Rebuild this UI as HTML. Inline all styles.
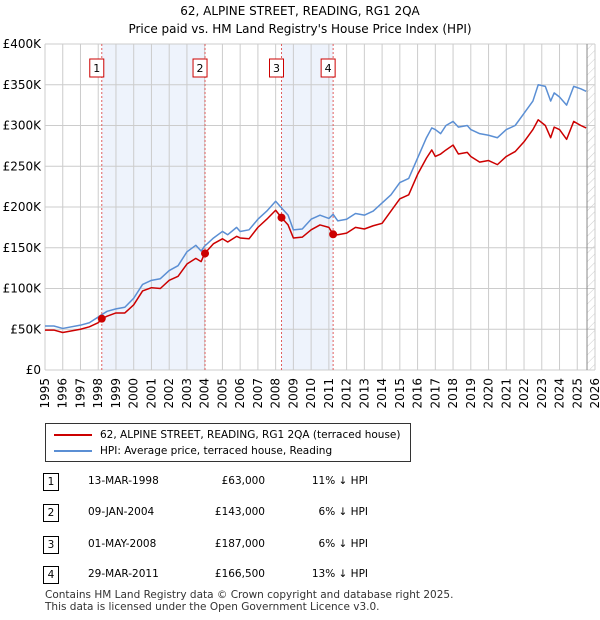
<!DOCTYPE html>
<html><head><meta charset="utf-8">
<style>
body{margin:0;background:#fff;font-family:"DejaVu Sans","Liberation Sans",sans-serif;color:#000}
#wrap{position:relative;width:600px;height:620px;overflow:hidden}
.t{position:absolute;font-size:12px}
</style></head><body>
<div id="wrap">
<div class="t" style="left:0;width:600px;top:2px;text-align:center;font-size:12px;line-height:18px">62, ALPINE STREET, READING, RG1 2QA<br>Price paid vs. HM Land Registry's House Price Index (HPI)</div>
<svg id="chart" width="600" height="420" style="position:absolute;left:0;top:0;font-family:'DejaVu Sans',sans-serif"></svg>
<div style="position:absolute;left:45px;top:423px;width:364px;height:37px;border:1px solid #333;font-size:10.5px">
 <div style="position:absolute;left:8px;top:5px"><span style="display:inline-block;width:38px;height:2px;background:#cc0000;vertical-align:middle;margin-right:8px"></span>62, ALPINE STREET, READING, RG1 2QA (terraced house)</div>
 <div style="position:absolute;left:8px;top:21px"><span style="display:inline-block;width:38px;height:2px;background:#5b8fd4;vertical-align:middle;margin-right:8px"></span>HPI: Average price, terraced house, Reading</div>
</div>
<div id="table"></div>
<div class="t" style="left:45px;top:589px;font-size:10.5px;line-height:12px;color:#333">Contains HM Land Registry data © Crown copyright and database right 2025.<br>This data is licensed under the Open Government Licence v3.0.</div>
</div>
<script>
const dates=[1995,1995.5,1996,1997,1997.5,1998,1998.2,1998.5,1999,1999.5,2000,2000.5,2001,2001.5,2002,2002.5,2003,2003.5,2003.8,2004,2004.5,2005,2005.3,2005.8,2006,2006.5,2007,2007.5,2008,2008.33,2008.7,2009,2009.5,2010,2010.5,2011,2011.24,2011.5,2012,2012.5,2013,2013.5,2014,2014.5,2015,2015.5,2016,2016.5,2016.8,2017,2017.3,2017.6,2018,2018.3,2018.8,2019,2019.5,2020,2020.5,2021,2021.5,2022,2022.5,2022.8,2023.2,2023.5,2023.7,2024,2024.4,2024.8,2025.2,2025.5];
const hpi=[54,54,51,55,58,65,68,72,75,77,88,105,110,112,122,128,145,153,146,152,162,170,166,175,170,172,185,195,207,199,190,172,173,185,190,186,191,183,185,192,190,195,205,215,230,235,260,285,297,295,290,300,305,298,300,295,290,288,285,295,300,315,330,350,348,330,340,335,325,348,345,342];
const paid=[49,49,46,50,53,58,63,66,70,70,80,97,101,100,110,115,130,137,133,143,155,161,157,164,162,161,175,185,196,187,178,162,163,172,178,175,166.5,166,168,175,173,177,180,195,210,215,240,260,270,262,265,270,276,265,267,262,255,257,252,262,268,280,295,307,300,285,298,295,283,305,300,297];
const saleNums=["1","2","3","4"];
const saleDates=[1998.2,2004.02,2008.33,2011.24];
const salePrices=[63,143,187,166.5];
const saleLabels=["13-MAR-1998","09-JAN-2004","01-MAY-2008","29-MAR-2011"];
const salePriceText=["£63,000","£143,000","£187,000","£166,500"];
const saleDiff=["11% ↓ HPI","6% ↓ HPI","6% ↓ HPI","13% ↓ HPI"];
const yTicks=[0,50,100,150,200,250,300,350,400];
const yTickLabels=["£0","£50K","£100K","£150K","£200K","£250K","£300K","£350K","£400K"];
const years=[];for(let y=1995;y<=2026;y++)years.push(y);

const X0=45,X1=595,Y0=370,Y1=44;
const xs=v=>X0+(v-1995)/(2026-1995)*(X1-X0);
const ys=v=>Y0-v/400*(Y0-Y1);
const svg=document.getElementById('chart');
const NS='http://www.w3.org/2000/svg';
function mk(tag,attrs,parent){const e=document.createElementNS(NS,tag);for(const k in attrs)e.setAttribute(k,attrs[k]);(parent||svg).appendChild(e);return e;}
for(let i=0;i<saleDates.length;i+=2){
 const r=mk('rect',{x:xs(saleDates[i]),y:Y1,width:xs(saleDates[i+1])-xs(saleDates[i]),height:Y0-Y1,fill:'#eef3fc'});
 
 
}
const defs=mk('defs',{});
const pat=mk('pattern',{id:'h',width:6,height:6,patternUnits:'userSpaceOnUse',patternTransform:'rotate(45)'},defs);
mk('line',{x1:0,y1:0,x2:0,y2:6,stroke:'#ccc','stroke-width':1},pat);
const hx=xs(2025.55);
const hr=mk('rect',{x:hx,y:Y1,width:X1-hx,height:Y0-Y1,fill:'url(#h)'});


years.forEach(y=>{const l=mk('line',{x1:xs(y),x2:xs(y),y1:Y1,y2:Y0,stroke:'#ccc','stroke-width':1});
 
 
 const t=mk('text',{x:0,y:0,transform:`translate(${xs(y)+4},${Y0+8}) rotate(-90)`,'text-anchor':'end','font-size':12,fill:'#000'});
 t.textContent=y;
 
 
});
yTicks.forEach((v,i)=>{const l=mk('line',{x1:X0,x2:X1,y1:ys(v),y2:ys(v),stroke:'#ccc','stroke-width':1});
 
 
 const t=mk('text',{x:X0-4,y:ys(v)+4,'text-anchor':'end','font-size':12,fill:'#000'});
 t.textContent=yTickLabels[i];
 
 
});
mk('line',{x1:hx,x2:hx,y1:Y1,y2:Y0,stroke:'#888','stroke-width':1});
saleDates.forEach((d,i)=>{
 const l=mk('line',{x1:xs(d),x2:xs(d),y1:Y1,y2:Y0,stroke:'#e06060','stroke-width':1,'stroke-dasharray':'2,2'});
 
 
 const b=mk('rect',{x:xs(d)-12,y:59,width:14,height:18,fill:'#fff',stroke:'#cc0000'});
 
 
 const t=mk('text',{x:xs(d)-5,y:72,'text-anchor':'middle','font-size':11});
 t.textContent=saleNums[i];
 
 
});
function line(vals,color,name){
 const p=mk('polyline',{points:dates.map((d,i)=>xs(d)+','+ys(vals[i])).join(' '),fill:'none',stroke:color,'stroke-width':1.5,'stroke-linejoin':'round'});
 
 
}
line(hpi,'#5b8fd4','hpi-line');
line(paid,'#cc0000','price-paid-line');
saleDates.forEach((d,i)=>{
 const c=mk('circle',{cx:xs(d),cy:ys(salePrices[i]),r:4,fill:'#cc0000'});
 
 
});
const tb=document.getElementById('table');
const rowY=[473,504,536,566];
saleNums.forEach((n,i)=>{
 const r=document.createElement('div');
 
 
 r.style.cssText=`position:absolute;left:0;top:${rowY[i]}px;width:600px;height:18px;font-size:10.5px`;
 r.innerHTML=`<span style="position:absolute;left:43px;top:0;width:14px;height:16px;border:1px solid #000;text-align:center;line-height:16px">${n}</span>`+
 `<span style="position:absolute;left:88px;top:2px">${saleLabels[i]}</span>`+
 `<span style="position:absolute;right:335px;top:2px">${salePriceText[i]}</span>`+
 `<span style="position:absolute;right:232px;top:2px">${saleDiff[i]}</span>`;
 tb.appendChild(r);
});
</script>
</body></html>
